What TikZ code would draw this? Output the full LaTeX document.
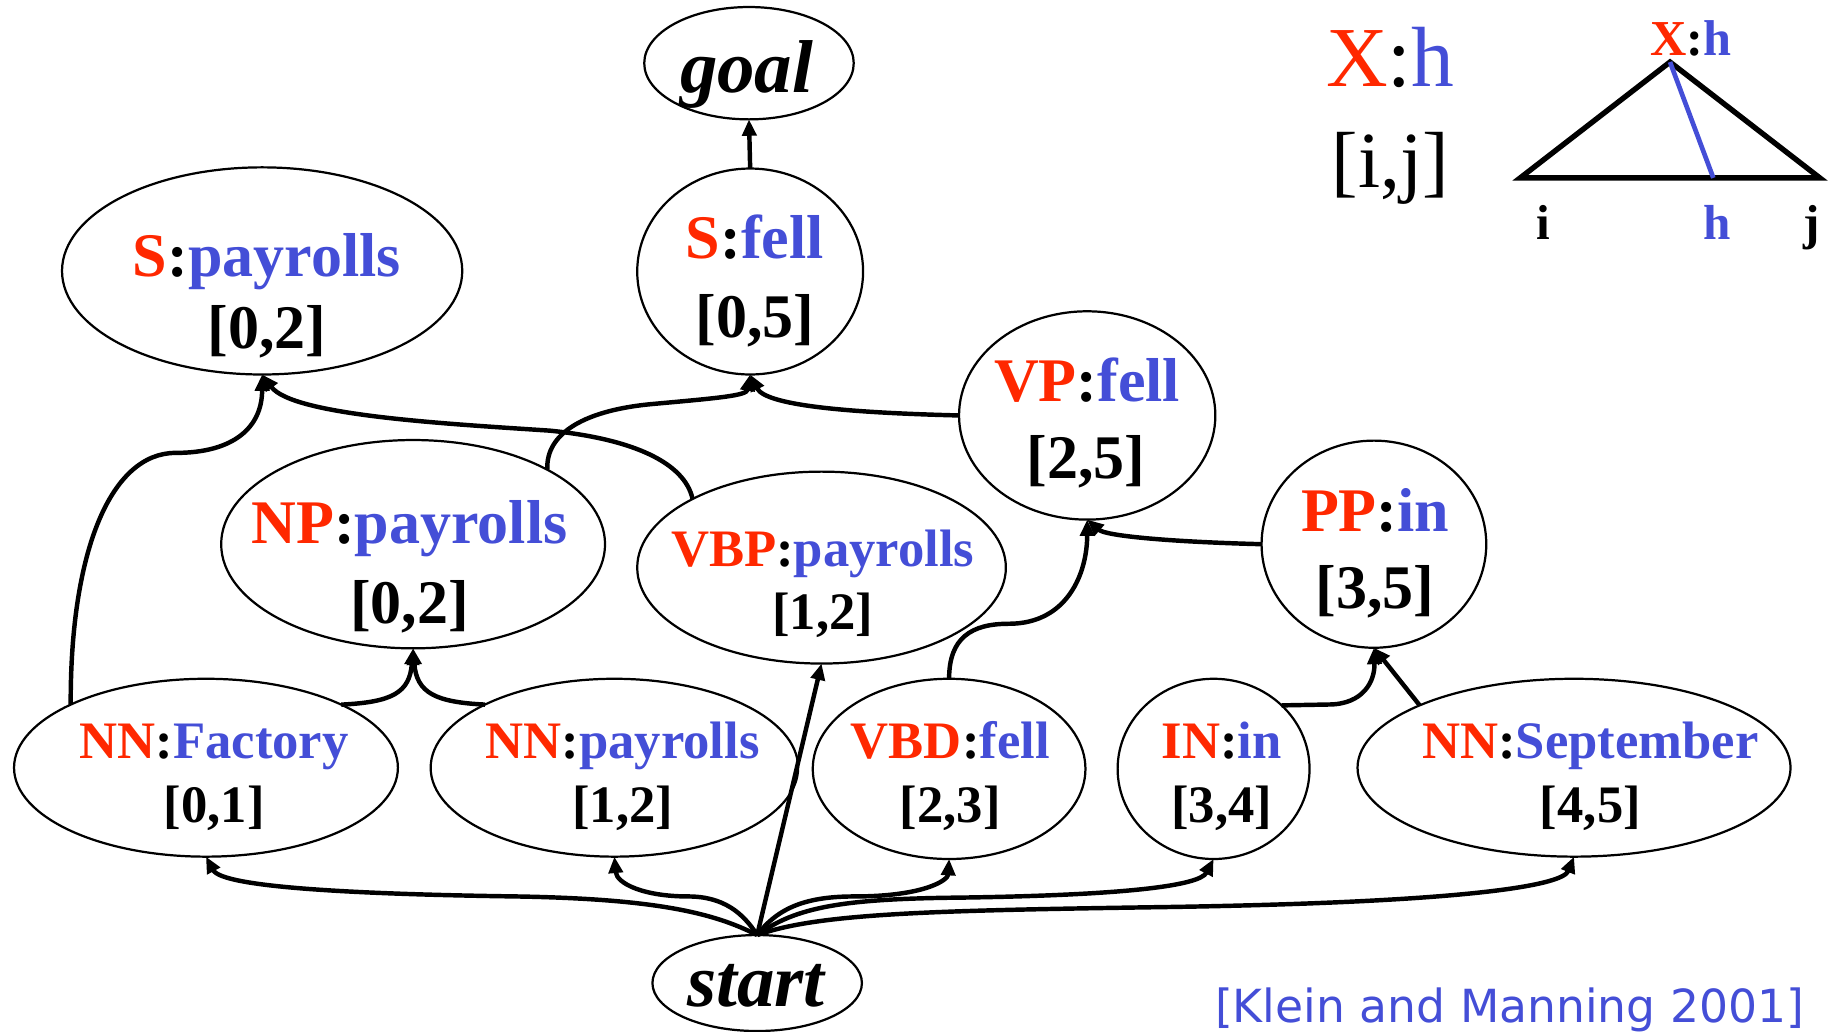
\documentclass[tikz,border=0pt]{standalone}
\usepackage{fontspec}
\setmainfont{Liberation Serif}
\newfontfamily\citefont{DejaVu Sans}
\usetikzlibrary{shapes.geometric,arrows.meta}

\definecolor{catred}{RGB}{255,40,0}
\definecolor{headblue}{RGB}{68,78,215}

% category:head label
\newcommand{\xhead}[2]{\textcolor{catred}{#1}:\textcolor{headblue}{#2}}

\tikzset{
  ell/.style={draw, ellipse, line width=1.9pt, inner sep=0pt, outer sep=0pt},
  bigtxt/.style={font=\fontsize{53}{60}\selectfont\bfseries, anchor=base, inner sep=0pt},
  smalltxt/.style={font=\fontsize{45}{52}\selectfont\bfseries, anchor=base, inner sep=0pt},
  endtxt/.style={font=\fontsize{64}{70}\selectfont\bfseries\itshape, anchor=base, inner sep=0pt},
  edge/.style={line width=3.8pt, -{Triangle[length=14pt,width=12pt]}},
}

\begin{document}
\begin{tikzpicture}[x=1pt,y=-1pt]
\useasboundingbox (0,0) rectangle (1568,881);

% ---- chart items ----
\node[ell, minimum width=179pt, minimum height=96pt]  (goal)  at (640,54)    {};
\node[ell, minimum width=193pt, minimum height=176pt] (sfell) at (641,232)   {};
\node[ell, minimum width=342pt, minimum height=177pt] (sp)    at (224,231.5) {};
\node[ell, minimum width=219pt, minimum height=178pt] (vp)    at (929,355)   {};
\node[ell, minimum width=328pt, minimum height=178pt] (np)    at (353,465)   {};
\node[ell, minimum width=315pt, minimum height=164pt] (vbp)   at (702,485)   {};
\node[ell, minimum width=192pt, minimum height=177pt] (pp)    at (1174,465)  {};
\node[ell, minimum width=328pt, minimum height=152pt] (nnf)   at (176,656)   {};
\node[ell, minimum width=314pt, minimum height=152pt] (nnp)   at (525,656)   {};
\node[ell, minimum width=233pt, minimum height=154pt] (vbd)   at (811,657)   {};
\node[ell, minimum width=164pt, minimum height=154pt] (inn)   at (1037,657)  {};
\node[ell, minimum width=370pt, minimum height=152pt] (sep)   at (1345,656)  {};
\node[ell, minimum width=179pt, minimum height=82pt]  (start) at (647,840)   {};

% ---- labels ----
\node[endtxt] (goal-t)  at (638,79)  {goal};
\node[endtxt] (start-t) at (646,860) {start};

\node[bigtxt] (sp-a)    at (228,236)  {\xhead{S}{payrolls}};
\node[bigtxt] (sp-b)    at (228,298)  {[0,2]};
\node[bigtxt] (sfell-a) at (645,221)  {\xhead{S}{fell}};
\node[bigtxt] (sfell-b) at (645,288)  {[0,5]};
\node[bigtxt] (vp-a)    at (929,343)  {\xhead{VP}{fell}};
\node[bigtxt] (vp-b)    at (928,409)  {[2,5]};
\node[bigtxt] (np-a)    at (350,464)  {\xhead{NP}{payrolls}};
\node[bigtxt] (np-b)    at (350,533)  {[0,2]};
\node[bigtxt] (pp-a)    at (1175,454) {\xhead{PP}{in}};
\node[bigtxt] (pp-b)    at (1175,520) {[3,5]};

\node[smalltxt] (vbp-a) at (703,484)  {\xhead{VBP}{payrolls}};
\node[smalltxt] (vbp-b) at (703,538)  {[1,2]};
\node[smalltxt] (nnf-a) at (183,648)  {\xhead{NN}{Factory}};
\node[smalltxt] (nnf-b) at (183,703)  {[0,1]};
\node[smalltxt] (nnp-a) at (532,648)  {\xhead{NN}{payrolls}};
\node[smalltxt] (nnp-b) at (532,703)  {[1,2]};
\node[smalltxt] (vbd-a) at (812,648)  {\xhead{VBD}{fell}};
\node[smalltxt] (vbd-b) at (812,703)  {[2,3]};
\node[smalltxt] (inn-a) at (1044,648) {\xhead{IN}{in}};
\node[smalltxt] (inn-b) at (1044,703) {[3,4]};
\node[smalltxt] (sep-a) at (1359,648) {\xhead{NN}{September}};
\node[smalltxt] (sep-b) at (1359,703) {[4,5]};

% ---- hyperedges ----
\draw[edge] (sfell.north) -- (goal.south);

\draw[edge] (nnf.155) .. controls (60,470) and (95,387) .. (150,387)
            .. controls (200,387) and (224,365) .. (sp.south);
\draw[edge] (vbp.152) .. controls (585,395) and (540,375) .. (470,368)
            .. controls (380,362) and (250,355) .. (sp.south);

\draw[edge] (np.29) .. controls (466,370) and (500,350) .. (560,345)
            .. controls (615,340) and (638,338) .. (sfell.south);
\draw[edge] (vp.west) .. controls (740,353) and (655,348) .. (sfell.south);

\draw[edge] (vbd.north) .. controls (811,545) and (830,533) .. (862,533)
            .. controls (912,533) and (929,490) .. (vp.south);
\draw[edge] (pp.west) .. controls (1000,463) and (945,458) .. (vp.south);

\draw[edge] (nnf.25) .. controls (335,600) and (350,592) .. (np.south);
\draw[edge] (nnp.154) .. controls (372,600) and (356,592) .. (np.south);

\draw[edge] (inn.43) -- (1135,602) .. controls (1165,602) and (1175,582) .. (pp.south);
\draw[edge] (sep.158) -- (pp.south);

\draw[edge] (start.north) -- (vbp.south);
\draw[edge] (start.north) .. controls (610,780) and (560,768) .. (441,766)
            .. controls (300,764) and (190,758) .. (nnf.south);
\draw[edge] (start.north) .. controls (635,780) and (618,766) .. (588,766)
            .. controls (550,766) and (527,755) .. (nnp.south);
\draw[edge] (start.north) .. controls (665,775) and (690,766) .. (730,766)
            .. controls (790,766) and (810,752) .. (vbd.south);
\draw[edge] (start.north) .. controls (680,775) and (720,768) .. (820,767)
            .. controls (960,765) and (1025,757) .. (inn.south);
\draw[edge] (start.north) .. controls (700,780) and (800,778) .. (1000,775)
            .. controls (1250,771) and (1335,757) .. (sep.south);

% ---- key: an item X:h spanning [i,j] ----
\node[font=\fontsize{73}{80}\selectfont, anchor=base, inner sep=0pt] (key) at (1188,74) {\xhead{X}{h}};
\node[font=\fontsize{68}{76}\selectfont, anchor=base, inner sep=0pt] (keyspan) at (1188,160) {[i,j]};

\coordinate (apex) at (1427,53);
\coordinate (tl)   at (1299,152);
\coordinate (tr)   at (1555,152);
\coordinate (hpt)  at (1464,152);
\draw[line width=4.6pt, line join=miter] (tl) -- (apex) -- (tr) -- cycle;
\draw[headblue, line width=4pt] (apex) -- (hpt);

\node[font=\fontsize{43}{48}\selectfont\bfseries, anchor=base, inner sep=0pt] (tri-top) at (1445,47) {\xhead{X}{h}};
\node[font=\fontsize{42}{48}\selectfont\bfseries, anchor=base, inner sep=0pt] (tri-i) at (1319,205) {i};
\node[font=\fontsize{42}{48}\selectfont\bfseries, anchor=base, inner sep=0pt, text=headblue] (tri-h) at (1467,205) {h};
\node[font=\fontsize{42}{48}\selectfont\bfseries, anchor=base, inner sep=0pt] (tri-j) at (1548,205) {j};

% ---- reference ----
\node[font=\citefont\fontsize{39}{44}\selectfont, text=headblue, anchor=base west, inner sep=0pt] (cite) at (1038,874) {[Klein and Manning 2001]};
\end{tikzpicture}
\end{document}
